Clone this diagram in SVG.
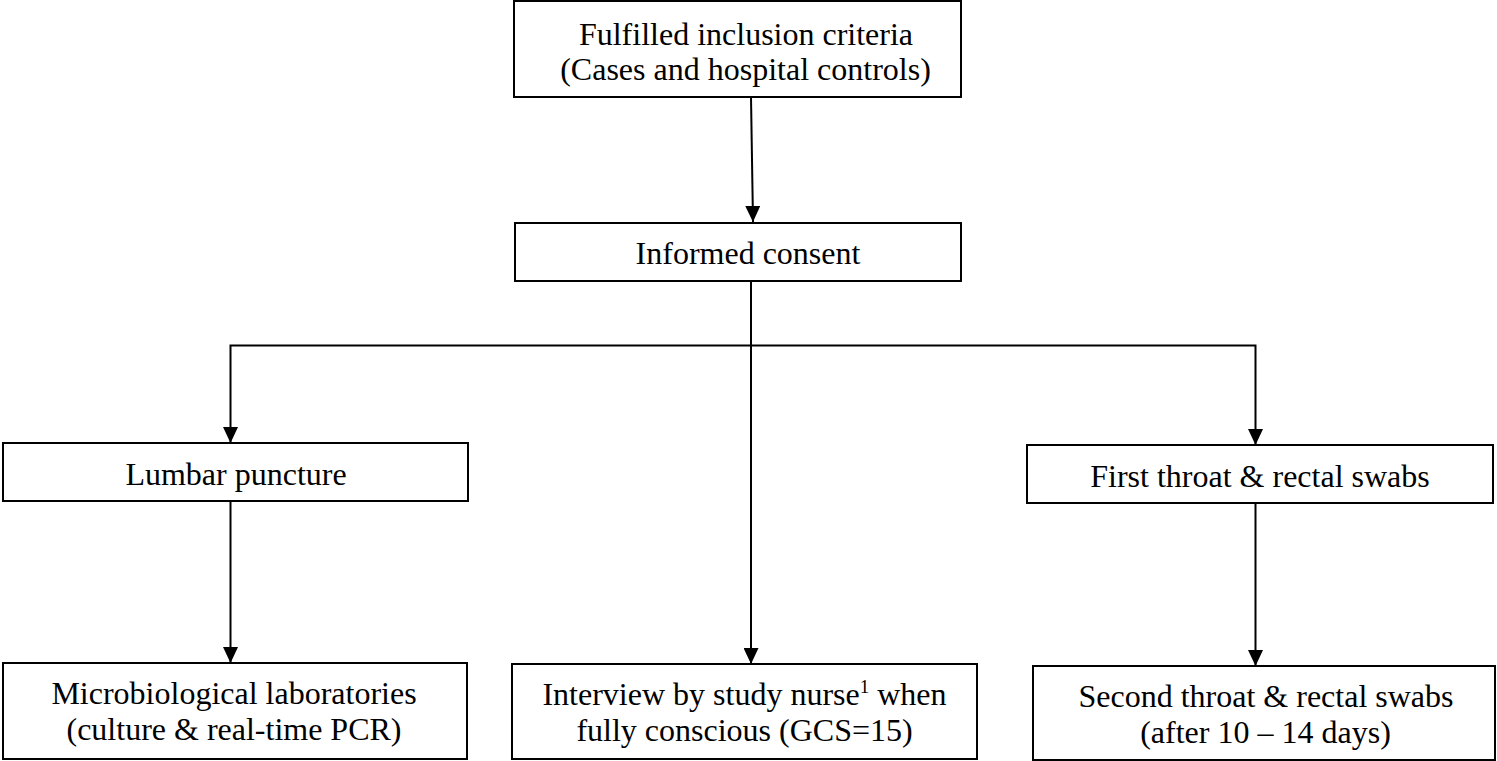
<svg xmlns="http://www.w3.org/2000/svg" width="1497" height="761" viewBox="0 0 1497 761">
<style>
.box{fill:#fff;stroke:#000;stroke-width:2}
.lbl{font-family:"Liberation Serif","Times New Roman",serif;font-size:32px;fill:#000;text-anchor:middle}
.con{fill:none;stroke:#000;stroke-width:2}
.arr{marker-end:url(#ah)}
</style>
<defs>
<marker id="ah" markerUnits="userSpaceOnUse" markerWidth="16" markerHeight="15" viewBox="0 0 16 15" refX="16" refY="7.5" orient="auto">
<path d="M0,0 L16,7.5 L0,15 Z" fill="#000"/>
</marker>
</defs>
<rect width="1497" height="761" fill="#fff"/>
<g id="connectors">
<line class="con arr" x1="751" y1="97" x2="753" y2="222"/>
<line class="con" x1="751" y1="282" x2="751" y2="345"/>
<polyline class="con arr" points="751,345.5 230.5,345.5 230.5,443"/>
<polyline class="con arr" points="751,345.5 1255.5,345.5 1255.5,445"/>
<line class="con arr" x1="751" y1="345" x2="751" y2="664"/>
<line class="con arr" x1="230.5" y1="501" x2="230.5" y2="663"/>
<line class="con arr" x1="1255.5" y1="503" x2="1255.5" y2="666"/>
</g>
<g id="n_inclusion">
<rect class="box" x="514" y="1" width="447" height="96"/>
<text class="lbl" x="746" y="45">Fulfilled inclusion criteria</text>
<text class="lbl" x="745.5" y="80">(Cases and hospital controls)</text>
</g>
<g id="n_consent">
<rect class="box" x="515" y="223" width="446" height="58"/>
<text class="lbl" x="748" y="264">Informed consent</text>
</g>
<g id="n_lumbar">
<rect class="box" x="3" y="443" width="465" height="58"/>
<text class="lbl" x="236" y="485">Lumbar puncture</text>
</g>
<g id="n_first_swabs">
<rect class="box" x="1027" y="445" width="466" height="58"/>
<text class="lbl" x="1260" y="487">First throat &amp; rectal swabs</text>
</g>
<g id="n_micro">
<rect class="box" x="3" y="663" width="464" height="96"/>
<text class="lbl" x="234" y="704">Microbiological laboratories</text>
<text class="lbl" x="234" y="740">(culture &amp; real-time PCR)</text>
</g>
<g id="n_interview">
<rect class="box" x="512" y="664" width="465" height="95"/>
<text class="lbl" x="744.5" y="705">Interview by study nurse<tspan font-size="19" dy="-12">1</tspan><tspan dy="12"> when</tspan></text>
<text class="lbl" x="744.5" y="741">fully conscious (GCS=15)</text>
</g>
<g id="n_second_swabs">
<rect class="box" x="1033" y="666" width="462" height="94"/>
<text class="lbl" x="1266" y="707">Second throat &amp; rectal swabs</text>
<text class="lbl" x="1265.5" y="743">(after 10 – 14 days)</text>
</g>
</svg>
